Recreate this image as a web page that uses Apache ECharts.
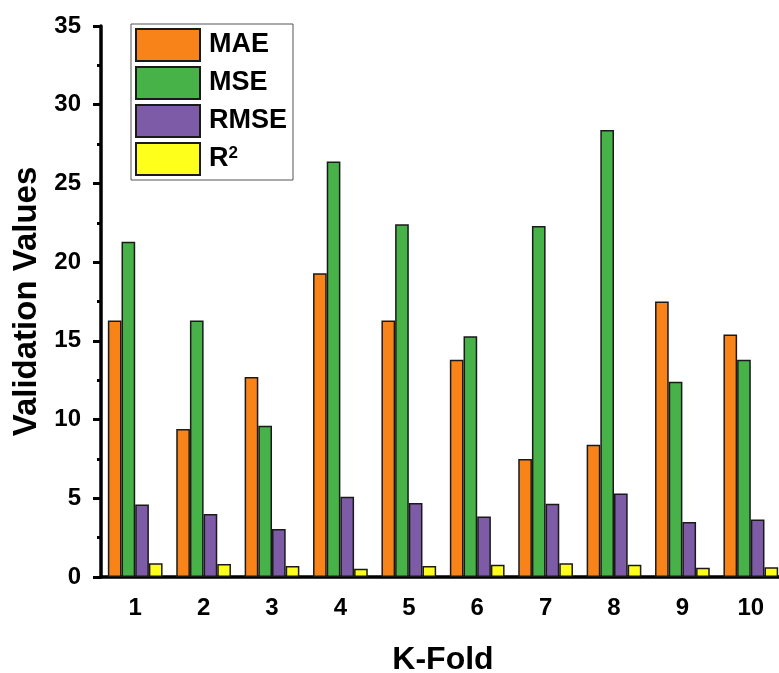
<!DOCTYPE html>
<html>
<head>
<meta charset="utf-8">
<script src="https://cdn.jsdelivr.net/npm/echarts@6/dist/echarts.min.js"></script>
<style>html,body{margin:0;padding:0;background:#fff}#c{width:779px;height:673px}</style>
</head>
<body>
<div id="c"></div>
<script>
const categories = ['1','2','3','4','5','6','7','8','9','10'];
const seriesNames = ['MAE','MSE','RMSE','R²'];
const mae  = [16.3, 9.4, 12.7, 19.3, 16.3, 13.8, 7.5, 8.4, 17.5, 15.4];
const mse  = [21.3, 16.3, 9.6, 26.4, 22.4, 15.3, 22.3, 28.4, 12.4, 13.8];
const rmse = [4.6, 4.0, 3.05, 5.1, 4.7, 3.85, 4.65, 5.3, 3.5, 3.65];
const r2   = [0.87, 0.83, 0.70, 0.52, 0.70, 0.78, 0.88, 0.78, 0.58, 0.62];
const colors = ['#F88318','#47B248','#7D5BA6','#FFFF1C'];
const FONT = '"Liberation Sans", Arial, sans-serif';

const chart = echarts.init(document.getElementById('c'));
const values = [mae, mse, rmse, r2];
chart.setOption({
  animation: false,
  backgroundColor: '#fff',
  grid: { left: 101, top: 26, bottom: 96, right: -6, containLabel: false, outerBoundsMode: 'none' },
  legend: {
    orient: 'vertical', left: 131, top: 24,
    itemWidth: 64, itemHeight: 32, itemGap: 4,
    padding: [4, 6, 4, 4],
    borderColor: '#555', borderWidth: 1,
    icon: 'rect',
    data: seriesNames,
    formatter: function (n) { return n === 'R²' ? '{b|R}{s|2}' : '{b|' + n + '}'; },
    textStyle: {
      rich: {
        b: { fontFamily: FONT, fontWeight: 'bold', fontSize: 27, color: '#000', padding: [0,0,0,4] },
        s: { fontFamily: FONT, fontWeight: 'bold', fontSize: 17, color: '#000', padding: [0,0,12,0] }
      }
    }
  },
  xAxis: [{
    type: 'category', data: categories,
    name: 'K-Fold', nameLocation: 'middle', nameGap: 67,
    nameTextStyle: { fontFamily: FONT, fontWeight: 'bold', fontSize: 32, color: '#000' },
    axisLine: { lineStyle: { color: '#000', width: 3.5 } },
    axisTick: { alignWithLabel: true, length: 9, lineStyle: { color: '#000', width: 4 } },
    axisLabel: { fontFamily: FONT, fontWeight: 'bold', fontSize: 24, color: '#000', margin: 19 },
    splitLine: { show: false }
  }, {
    type: 'category', data: categories, position: 'bottom',
    axisLine: { show: false },
    axisTick: { length: 5, lineStyle: { color: '#000', width: 3 } },
    axisLabel: { show: false },
    splitLine: { show: false }
  }],
  yAxis: {
    type: 'value', min: 0, max: 35, interval: 5,
    name: 'Validation Values', nameLocation: 'middle', nameGap: 58, nameRotate: 90,
    nameTextStyle: { fontFamily: FONT, fontWeight: 'bold', fontSize: 33, color: '#000' },
    axisLine: { show: true, lineStyle: { color: '#000', width: 3.5 } },
    axisTick: { show: true, length: 8, lineStyle: { color: '#000', width: 3 } },
    minorTick: { show: true, splitNumber: 2, length: 4, lineStyle: { color: '#000', width: 3 } },
    axisLabel: { fontFamily: FONT, fontWeight: 'bold', fontSize: 24, color: '#000', margin: 20 },
    splitLine: { show: false }
  },
  series: seriesNames.map((n, i) => ({
    name: n, type: 'bar', data: values[i],
    barGap: '0%', barCategoryGap: '20%',
    itemStyle: { color: colors[i], borderColor: '#1a1a1a', borderWidth: 1.5 }
  }))
});
</script>
</body>
</html>
